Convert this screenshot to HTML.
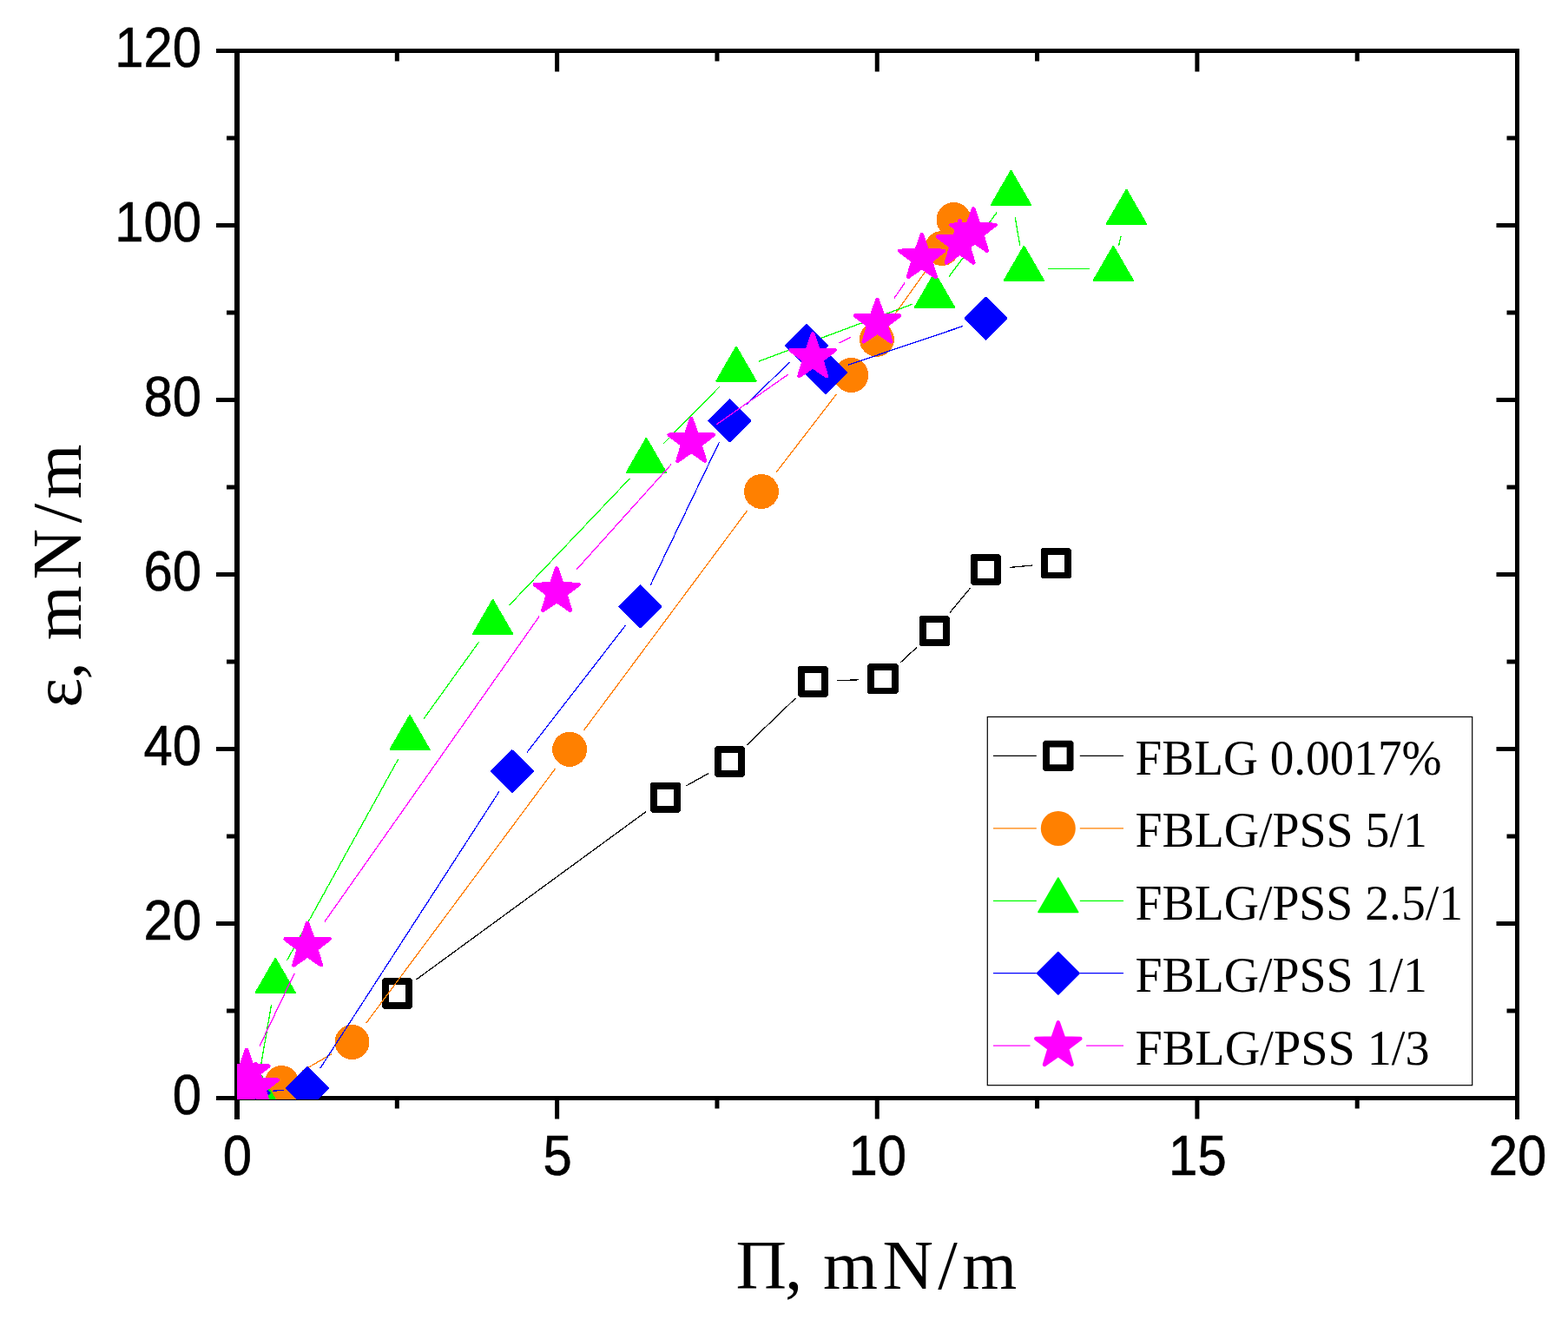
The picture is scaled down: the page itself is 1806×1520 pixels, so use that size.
<!DOCTYPE html>
<html><head><meta charset="utf-8"><title>chart</title><style>html,body{margin:0;padding:0;background:#fff;}svg{display:block;}</style></head><body>
<svg width="1806" height="1520" viewBox="0 0 1806 1520">
<rect width="100%" height="100%" fill="#fff"/>
<defs><clipPath id="pc"><rect x="273" y="58.5" width="1474.5" height="1207.5"/></clipPath></defs>
<g stroke="#000" fill="none"><line x1="249" y1="58.5" x2="1750" y2="58.5" stroke-width="5"/><line x1="249" y1="1264.5" x2="1750" y2="1264.5" stroke-width="5"/><line x1="273" y1="56" x2="273" y2="1289" stroke-width="6"/><line x1="1747.5" y1="56" x2="1747.5" y2="1289" stroke-width="5"/><line x1="261" y1="1164" x2="273" y2="1164" stroke-width="5"/><line x1="1735.5" y1="1164" x2="1747.5" y2="1164" stroke-width="5"/><line x1="249" y1="1063.5" x2="273" y2="1063.5" stroke-width="5"/><line x1="1723.5" y1="1063.5" x2="1747.5" y2="1063.5" stroke-width="5"/><line x1="261" y1="963" x2="273" y2="963" stroke-width="5"/><line x1="1735.5" y1="963" x2="1747.5" y2="963" stroke-width="5"/><line x1="249" y1="862.5" x2="273" y2="862.5" stroke-width="5"/><line x1="1723.5" y1="862.5" x2="1747.5" y2="862.5" stroke-width="5"/><line x1="261" y1="762" x2="273" y2="762" stroke-width="5"/><line x1="1735.5" y1="762" x2="1747.5" y2="762" stroke-width="5"/><line x1="249" y1="661.5" x2="273" y2="661.5" stroke-width="5"/><line x1="1723.5" y1="661.5" x2="1747.5" y2="661.5" stroke-width="5"/><line x1="261" y1="561" x2="273" y2="561" stroke-width="5"/><line x1="1735.5" y1="561" x2="1747.5" y2="561" stroke-width="5"/><line x1="249" y1="460.5" x2="273" y2="460.5" stroke-width="5"/><line x1="1723.5" y1="460.5" x2="1747.5" y2="460.5" stroke-width="5"/><line x1="261" y1="360" x2="273" y2="360" stroke-width="5"/><line x1="1735.5" y1="360" x2="1747.5" y2="360" stroke-width="5"/><line x1="249" y1="259.5" x2="273" y2="259.5" stroke-width="5"/><line x1="1723.5" y1="259.5" x2="1747.5" y2="259.5" stroke-width="5"/><line x1="261" y1="159" x2="273" y2="159" stroke-width="5"/><line x1="1735.5" y1="159" x2="1747.5" y2="159" stroke-width="5"/><line x1="457.31" y1="1264.5" x2="457.31" y2="1276.5" stroke-width="5"/><line x1="457.31" y1="58.5" x2="457.31" y2="70.5" stroke-width="5"/><line x1="641.62" y1="1264.5" x2="641.62" y2="1288.5" stroke-width="5"/><line x1="641.62" y1="58.5" x2="641.62" y2="82.5" stroke-width="5"/><line x1="825.94" y1="1264.5" x2="825.94" y2="1276.5" stroke-width="5"/><line x1="825.94" y1="58.5" x2="825.94" y2="70.5" stroke-width="5"/><line x1="1010.25" y1="1264.5" x2="1010.25" y2="1288.5" stroke-width="5"/><line x1="1010.25" y1="58.5" x2="1010.25" y2="82.5" stroke-width="5"/><line x1="1194.56" y1="1264.5" x2="1194.56" y2="1276.5" stroke-width="5"/><line x1="1194.56" y1="58.5" x2="1194.56" y2="70.5" stroke-width="5"/><line x1="1378.88" y1="1264.5" x2="1378.88" y2="1288.5" stroke-width="5"/><line x1="1378.88" y1="58.5" x2="1378.88" y2="82.5" stroke-width="5"/><line x1="1563.19" y1="1264.5" x2="1563.19" y2="1276.5" stroke-width="5"/><line x1="1563.19" y1="58.5" x2="1563.19" y2="70.5" stroke-width="5"/></g>
<g font-family="'Liberation Sans', Arial, sans-serif" font-size="63" fill="#000" stroke="#000" stroke-width="0.6"><text transform="translate(232 1283) scale(0.95 1.022)" text-anchor="end">0</text><text transform="translate(232 1082) scale(0.95 1.022)" text-anchor="end">20</text><text transform="translate(232 881) scale(0.95 1.022)" text-anchor="end">40</text><text transform="translate(232 680) scale(0.95 1.022)" text-anchor="end">60</text><text transform="translate(232 479) scale(0.95 1.022)" text-anchor="end">80</text><text transform="translate(232 278) scale(0.95 1.022)" text-anchor="end">100</text><text transform="translate(232 77) scale(0.95 1.022)" text-anchor="end">120</text><text transform="translate(273.5 1353) scale(0.95 1.022)" text-anchor="middle">0</text><text transform="translate(642.12 1353) scale(0.95 1.022)" text-anchor="middle">5</text><text transform="translate(1010.75 1353) scale(0.95 1.022)" text-anchor="middle">10</text><text transform="translate(1379.38 1353) scale(0.95 1.022)" text-anchor="middle">15</text><text transform="translate(1748 1353) scale(0.95 1.022)" text-anchor="middle">20</text></g>
<text x="847.4 904 925 948 1016.5 1080.2 1108.3" y="1484.2" font-family="'Liberation Serif', serif" font-size="81">Π, mN/m</text>
<text transform="translate(93.2 0) rotate(-90)" x="-814.8 -782.5 -770 -737.2 -667.6 -602.3 -574.4" y="0" font-family="'Liberation Serif', serif" font-size="81">ε, mN/m</text>
<g clip-path="url(#pc)" shape-rendering="crispEdges"><path d="M479.71 1127.78L744.29 934.52M790.49 904.86L816.41 890.34M860.23 857.85L916.47 803.85M963.78 783.74L989.32 782.76M1036.98 763.01L1056.12 745.29M1093.92 705.49L1117.78 676.91M1162.79 653.4L1188.91 651.1" stroke="#000" stroke-width="1.3" fill="none"/><g fill="#000" fill-rule="evenodd"><path d="M442 1126.3H473L475.2 1128.5V1159.5L473 1161.7H442L439.8 1159.5V1128.5ZM447.7 1134.2V1153.8H467.3V1134.2Z"/><path d="M751 900.6H782L784.2 902.8V933.8L782 936H751L748.8 933.8V902.8ZM756.7 908.5V928.1H776.3V908.5Z"/><path d="M824.9 859.2H855.9L858.1 861.4V892.4L855.9 894.6H824.9L822.7 892.4V861.4ZM830.6 867.1V886.7H850.2V867.1Z"/><path d="M920.8 767.1H951.8L954 769.3V800.3L951.8 802.5H920.8L918.6 800.3V769.3ZM926.5 775V794.6H946.1V775Z"/><path d="M1001.3 764H1032.3L1034.5 766.2V797.2L1032.3 799.4H1001.3L999.1 797.2V766.2ZM1007 771.9V791.5H1026.6V771.9Z"/><path d="M1060.8 708.9H1091.8L1094 711.1V742.1L1091.8 744.3H1060.8L1058.6 742.1V711.1ZM1066.5 716.8V736.4H1086.1V716.8Z"/><path d="M1119.9 638.1H1150.9L1153.1 640.3V671.3L1150.9 673.5H1119.9L1117.7 671.3V640.3ZM1125.6 646V665.6H1145.2V646Z"/><path d="M1200.8 631H1231.8L1234 633.2V664.2L1231.8 666.4H1200.8L1198.6 664.2V633.2ZM1206.5 638.9V658.5H1226.1V638.9Z"/></g><path d="M348.27 1233.28L381.73 1213.82M421.91 1177.93L639.69 884.97M672.52 840.84L860.58 588.06M893.79 544.22L963.51 453.78M1025.92 368.45L1068.98 308.35" stroke="#ff8000" stroke-width="1.3" fill="none"/><g fill="#ff8000"><circle cx="328" cy="1264" r="20"/><circle cx="324.5" cy="1247.1" r="20"/><circle cx="405.5" cy="1200" r="20"/><circle cx="656.1" cy="862.9" r="20"/><circle cx="877" cy="566" r="20"/><circle cx="980.3" cy="432" r="20"/><circle cx="1009.9" cy="390.8" r="20"/><circle cx="1085" cy="286" r="20"/><circle cx="1098.5" cy="253" r="20"/></g><path d="M298.67 1237.4L312.53 1157.1M330.51 1105.94L458.69 874.16M488.03 827.76L551.57 739.24M586.55 696.97L725.45 550.93M763.69 511.4L828.71 445.3M873.77 416.11L1050.73 350.29M1092.95 318.66L1148.05 244.84M1169.14 249.91L1174.76 282.69M1206.9 309.8L1254.8 309.8M1288.51 283.01L1291.19 271.49" stroke="#00ff00" stroke-width="1.3" fill="none"/><g fill="#00ff00" stroke="#00ff00" stroke-width="2" stroke-linejoin="round"><polygon points="301,1238.4 323.6,1277.55 278.4,1277.55"/><polygon points="294,1238.4 316.6,1277.55 271.4,1277.55"/><polygon points="317.2,1103.9 339.8,1143.05 294.6,1143.05"/><polygon points="472,824 494.6,863.15 449.4,863.15"/><polygon points="567.6,690.8 590.2,729.95 545,729.95"/><polygon points="744.4,504.9 767,544.05 721.8,544.05"/><polygon points="848,399.6 870.6,438.75 825.4,438.75"/><polygon points="1076.5,314.6 1099.1,353.75 1053.9,353.75"/><polygon points="1164.5,196.7 1187.1,235.85 1141.9,235.85"/><polygon points="1179.4,283.7 1202,322.85 1156.8,322.85"/><polygon points="1282.3,283.7 1304.9,322.85 1259.7,322.85"/><polygon points="1297.4,218.6 1320,257.75 1274.8,257.75"/></g><path d="M314.41 1256.25L326.59 1255.25M368.94 1229.91L574.96 911.39M606.77 866.58L720.43 720.22M749.23 673.72L828.47 509.08M860.11 465.12L909.39 417.18M976.86 420.21L1109.44 375.49" stroke="#0000ff" stroke-width="1.3" fill="none"/><g fill="#0000ff" stroke="#0000ff" stroke-width="2" stroke-linejoin="round"><polygon points="287,1234.5 311,1258.5 287,1282.5 263,1258.5"/><polygon points="354,1229 378,1253 354,1277 330,1253"/><polygon points="589.9,864.3 613.9,888.3 589.9,912.3 565.9,888.3"/><polygon points="737.3,674.5 761.3,698.5 737.3,722.5 713.3,698.5"/><polygon points="840.4,460.3 864.4,484.3 840.4,508.3 816.4,484.3"/><polygon points="929.1,374 953.1,398 929.1,422 905.1,398"/><polygon points="950.8,405 974.8,429 950.8,453 926.8,429"/><polygon points="1135.5,342.7 1159.5,366.7 1135.5,390.7 1111.5,366.7"/></g><path d="M298.92 1204.69L339.18 1120.71M373.94 1061.38L621.36 709.42M664.29 655.57L773.21 534.63M824.59 489.26L907.91 431.14M966.63 395.14L980.07 387.96M1030.05 343.27L1042.25 325.53" stroke="#ff00ff" stroke-width="1.3" fill="none"/><g fill="#ff00ff" stroke="#ff00ff" stroke-width="4.5" stroke-linejoin="round"><polygon points="273,1237.7 279.29,1255.84 298.49,1256.22 283.18,1267.81 288.75,1286.18 273,1275.2 257.25,1286.18 262.82,1267.81 247.51,1256.22 266.71,1255.84"/><polygon points="294.4,1225.1 300.69,1243.24 319.89,1243.62 304.58,1255.21 310.15,1273.58 294.4,1262.6 278.65,1273.58 284.22,1255.21 268.91,1243.62 288.11,1243.24"/><polygon points="284,1209 290.29,1227.14 309.49,1227.52 294.18,1239.11 299.75,1257.48 284,1246.5 268.25,1257.48 273.82,1239.11 258.51,1227.52 277.71,1227.14"/><polygon points="354.1,1062.8 360.39,1080.94 379.59,1081.32 364.28,1092.91 369.85,1111.28 354.1,1100.3 338.35,1111.28 343.92,1092.91 328.61,1081.32 347.81,1080.94"/><polygon points="641.2,654.4 647.49,672.54 666.69,672.92 651.38,684.51 656.95,702.88 641.2,691.9 625.45,702.88 631.02,684.51 615.71,672.92 634.91,672.54"/><polygon points="796.3,482.2 802.59,500.34 821.79,500.72 806.48,512.31 812.05,530.68 796.3,519.7 780.55,530.68 786.12,512.31 770.81,500.72 790.01,500.34"/><polygon points="936.2,384.6 942.49,402.74 961.69,403.12 946.38,414.71 951.95,433.08 936.2,422.1 920.45,433.08 926.02,414.71 910.71,403.12 929.91,402.74"/><polygon points="1010.5,344.9 1016.79,363.04 1035.99,363.42 1020.68,375.01 1026.25,393.38 1010.5,382.4 994.75,393.38 1000.32,375.01 985.01,363.42 1004.21,363.04"/><polygon points="1061.8,270.3 1068.09,288.44 1087.29,288.82 1071.98,300.41 1077.55,318.78 1061.8,307.8 1046.05,318.78 1051.62,300.41 1036.31,288.82 1055.51,288.44"/><polygon points="1121.1,240.3 1127.39,258.44 1146.59,258.82 1131.28,270.41 1136.85,288.78 1121.1,277.8 1105.35,288.78 1110.92,270.41 1095.61,258.82 1114.81,258.44"/><polygon points="1105.6,254 1111.89,272.14 1131.09,272.52 1115.78,284.11 1121.35,302.48 1105.6,291.5 1089.85,302.48 1095.42,284.11 1080.11,272.52 1099.31,272.14"/></g></g>
<rect x="1137.3" y="825.5" width="558.4" height="424.2" fill="#fff" stroke="#000" stroke-width="1.2"/><path d="M1144 870.4H1193.8M1243.8 870.4H1294" stroke="#000" stroke-width="1.3" fill="none"/><g fill="#000" fill-rule="evenodd"><path d="M1203.3 852.7H1234.3L1236.5 854.9V885.9L1234.3 888.1H1203.3L1201.1 885.9V854.9ZM1209 860.6V880.2H1228.6V860.6Z"/></g><text x="1307.6" y="891.7" font-family="'Liberation Serif', serif" font-size="58" textLength="353" lengthAdjust="spacingAndGlyphs">FBLG 0.0017%</text><path d="M1144 953.9H1193.8M1243.8 953.9H1294" stroke="#ff8000" stroke-width="1.3" fill="none"/><g fill="#ff8000"><circle cx="1218.8" cy="953.9" r="20"/></g><text x="1307.6" y="975.2" font-family="'Liberation Serif', serif" font-size="58" textLength="336.2" lengthAdjust="spacingAndGlyphs">FBLG/PSS 5/1</text><path d="M1144 1037.3H1193.8M1243.8 1037.3H1294" stroke="#00ff00" stroke-width="1.3" fill="none"/><g fill="#00ff00" stroke="#00ff00" stroke-width="2" stroke-linejoin="round"><polygon points="1218.8,1011.2 1241.4,1050.35 1196.2,1050.35"/></g><text x="1307.6" y="1058.6" font-family="'Liberation Serif', serif" font-size="58" textLength="377.5" lengthAdjust="spacingAndGlyphs">FBLG/PSS 2.5/1</text><path d="M1144 1120.7H1193.8M1243.8 1120.7H1294" stroke="#0000ff" stroke-width="1.3" fill="none"/><g fill="#0000ff" stroke="#0000ff" stroke-width="2" stroke-linejoin="round"><polygon points="1218.8,1096.7 1242.8,1120.7 1218.8,1144.7 1194.8,1120.7"/></g><text x="1307.6" y="1142" font-family="'Liberation Serif', serif" font-size="58" textLength="336.2" lengthAdjust="spacingAndGlyphs">FBLG/PSS 1/1</text><path d="M1144 1204.2H1186.5M1251.1 1204.2H1294" stroke="#ff00ff" stroke-width="1.3" fill="none"/><g fill="#ff00ff" stroke="#ff00ff" stroke-width="4.5" stroke-linejoin="round"><polygon points="1218.8,1177.4 1225.09,1195.54 1244.29,1195.92 1228.98,1207.51 1234.55,1225.88 1218.8,1214.9 1203.05,1225.88 1208.62,1207.51 1193.31,1195.92 1212.51,1195.54"/></g><text x="1307.6" y="1225.5" font-family="'Liberation Serif', serif" font-size="58" textLength="339" lengthAdjust="spacingAndGlyphs">FBLG/PSS 1/3</text>
</svg>
</body></html>
